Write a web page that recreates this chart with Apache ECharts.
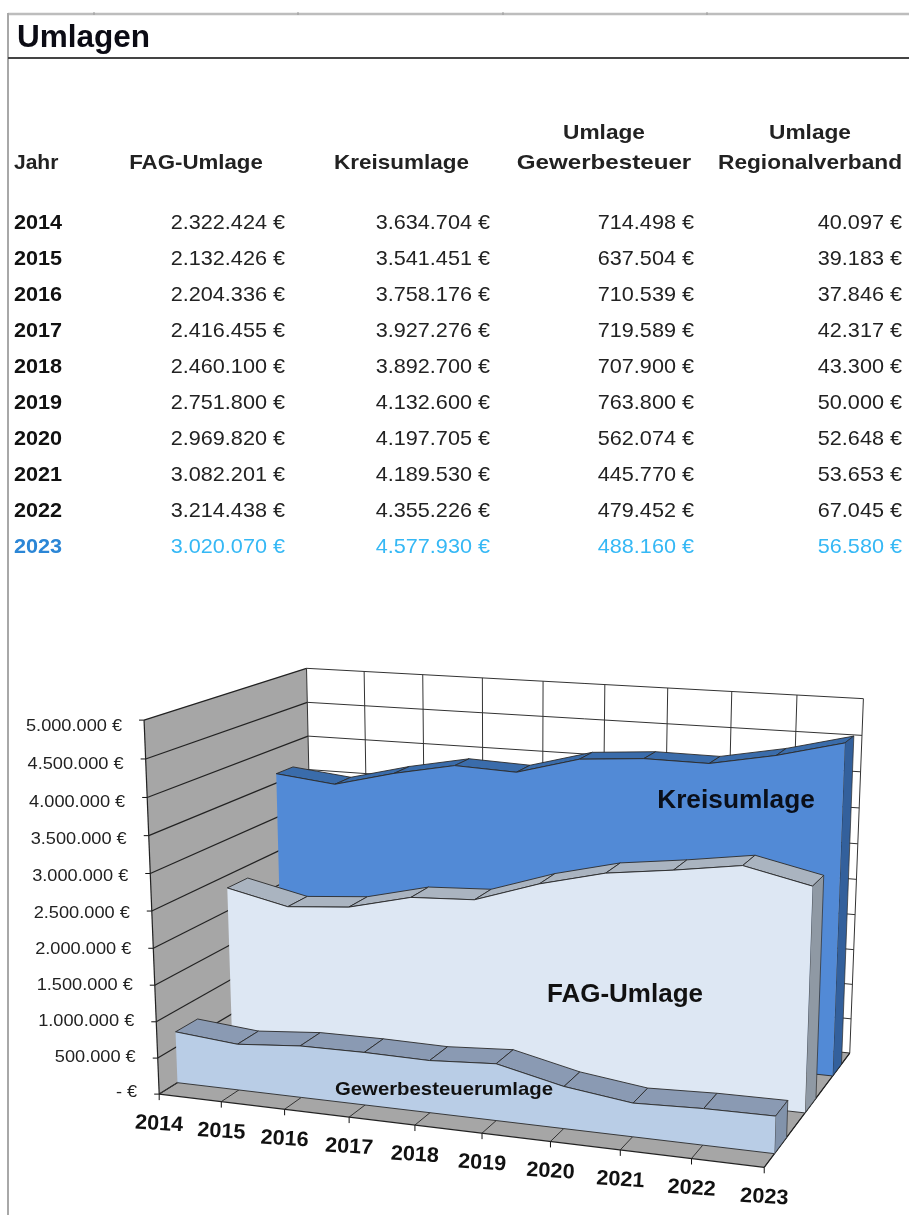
<!DOCTYPE html>
<html><head><meta charset="utf-8">
<style>html,body{margin:0;padding:0;background:#fff}#c{width:909px;height:1215px}</style>
<script src="https://cdn.jsdelivr.net/npm/echarts@6/dist/echarts.min.js"></script>
</head><body><div id="c"></div>
<script>
// ---- data ----
var years = ['2014','2015','2016','2017','2018','2019','2020','2021','2022','2023'];
var fagUmlage = [2322424,2132426,2204336,2416455,2460100,2751800,2969820,3082201,3214438,3020070];
var kreisumlage = [3634704,3541451,3758176,3927276,3892700,4132600,4197705,4189530,4355226,4577930];
var gewerbesteuer = [714498,637504,710539,719589,707900,763800,562074,445770,479452,488160];
var regionalverband = [40097,39183,37846,42317,43300,50000,52648,53653,67045,56580];
var yTicks = [0,500000,1000000,1500000,2000000,2500000,3000000,3500000,4000000,4500000,5000000];
var tableTitle = 'Umlagen';
var headers = [['Jahr'],['FAG-Umlage'],['Kreisumlage'],['Umlage','Gewerbesteuer'],['Umlage','Regionalverband']];
var areaNames = ['Kreisumlage','FAG-Umlage','Gewerbesteuerumlage'];

// ---- layout ----
var W = 909, H = 1215, FONT = '"Liberation Sans", Arial, sans-serif';
function euro(v){ return (v===0?'-':String(v).replace(/\B(?=(\d{3})+$)/g,'.'))+' €'; }
// calibration of the 3D box: unit box point -> screen pixel
var corners = [[0,0,0,160,1092],[1,0,0,765,1168],[0,1,0,144,722],[0,0,1,314,1002],[0,1,1,307,667],[1,0,1,849,1050],[1,1,1,864,699],
  [0,0.5,0,151,911],[0,0.2,0,156,1019],[0,0.8,0,147,798],[4/9,0,0,414,1125],[7/9,0,0,621,1152],[3/9,1,1,482,677],[6/9,1,1,667,690],[0,0.9,1,308,702],[0,0.8,1,308,735],[1,0.9,1,862,735]];
function solve(A,b){var n=b.length;for(var i=0;i<n;i++){var p=i;for(var r=i+1;r<n;r++)if(Math.abs(A[r][i])>Math.abs(A[p][i]))p=r;
  var t=A[i];A[i]=A[p];A[p]=t;t=b[i];b[i]=b[p];b[p]=t;
  for(r=i+1;r<n;r++){var f=A[r][i]/A[i][i];for(var c=i;c<n;c++)A[r][c]-=f*A[i][c];b[r]-=f*b[i];}}
  var x=[];for(i=n-1;i>=0;i--){var s=b[i];for(c=i+1;c<n;c++)s-=A[i][c]*x[c];x[i]=s/A[i][i];}return x;}
var cam=(function(){var R=[],B=[];corners.forEach(function(q){var u=q[0],v=q[1],w=q[2],x=q[3],y=q[4];
  R.push([u,v,w,1,0,0,0,0,-x*u,-x*v,-x*w]);B.push(x);R.push([0,0,0,0,u,v,w,1,-y*u,-y*v,-y*w]);B.push(y);});
  var N=[],g=[];for(var i=0;i<11;i++){N[i]=[];g[i]=0;for(var j=0;j<11;j++){N[i][j]=0;for(var k=0;k<R.length;k++)N[i][j]+=R[k][i]*R[k][j];}
  for(k=0;k<R.length;k++)g[i]+=R[k][i]*B[k];}return solve(N,g);})();
function project(u,v,w){var d=cam[8]*u+cam[9]*v+cam[10]*w+1;
  return [(cam[0]*u+cam[1]*v+cam[2]*w+cam[3])/d,(cam[4]*u+cam[5]*v+cam[6]*w+cam[7])/d];}
// scale a (category,value) pair through the hidden axes, then project at a depth
function P(api,cat,val,w){var c=api.coord([cat,val]);return project(c[0]/W,1-c[1]/H,w);}

var EDGE='#2a2a2a', WALL='#a6a6a6', GRID='#333333';
function line(a,b,color,lw){return {type:'line',shape:{x1:a[0],y1:a[1],x2:b[0],y2:b[1]},style:{stroke:color||GRID,lineWidth:lw||1},silent:true};}
function poly(pts,fill){return {type:'polygon',shape:{points:pts},style:{fill:fill,stroke:null},silent:true};}
function polyline(pts,color,lw){return {type:'polyline',shape:{points:pts},style:{stroke:color,lineWidth:lw,fill:null},silent:true};}
var last=years.length-1, top5=yTicks[yTicks.length-1];

// walls, floor, grid
function renderBox(params,api){
  if(params.dataIndex!==0) return null;
  var ch=[];
  ch.push(poly([P(api,0,0,1),P(api,last,0,1),P(api,last,top5,1),P(api,0,top5,1)],'#ffffff'));
  ch.push(poly([P(api,0,0,0),P(api,0,0,1),P(api,0,top5,1),P(api,0,top5,0)],WALL));
  ch.push(poly([P(api,0,0,0),P(api,last,0,0),P(api,last,0,1),P(api,0,0,1)],WALL));
  yTicks.forEach(function(t){
    ch.push(line(P(api,0,t,0),P(api,0,t,1),'#222',1.2));
    ch.push(line(P(api,0,t,1),P(api,last,t,1)));
    var a=P(api,0,t,0);
    ch.push(line([a[0]-5,a[1]],a,'#111'));
  });
  years.forEach(function(y,i){
    ch.push(line(P(api,i,0,0),P(api,i,0,1)));
    ch.push(line(P(api,i,0,1),P(api,i,top5,1)));
    var a=P(api,i,0,0);
    ch.push(line(a,[a[0],a[1]+6],'#111'));
  });
  ch.push(line(P(api,0,0,0),P(api,last,0,0),'#222',1.2));
  ch.push(line(P(api,0,0,0),P(api,0,top5,0),'#222',1.2));
  ch.push(line(P(api,last,0,0),P(api,last,0,1),'#222',1.2));
  return {type:'group',children:ch};
}
// one 3D ribbon area
function renderArea(w0,w1,cFace,cTop,cCap){
  return function(params,api){
    if(params.dataIndex!==0) return null;
    var ch=[],front=[],back=[],i;
    for(i=0;i<=last;i++){var v=api.value(1,i);front.push(P(api,i,v,w0));back.push(P(api,i,v,w1));}
    for(i=0;i<last;i++){
      var q=poly([front[i],front[i+1],back[i+1],back[i]],cTop);q.style.stroke=EDGE;q.style.lineWidth=0.9;ch.push(q);
    }
    var foot=[];for(i=last;i>=0;i--)foot.push(P(api,i,0,w0));
    var cap=poly([front[last],back[last],P(api,last,0,w1),P(api,last,0,w0)],cCap);cap.style.stroke=EDGE;cap.style.lineWidth=0.7;ch.push(cap);
    ch.push(poly(front.concat(foot),cFace));
    ch.push(polyline(front,EDGE,0.9));
    ch.push(polyline(foot,EDGE,0.9));
    return {type:'group',children:ch};
  };
}
function bar(depth,data,face,top,cap,z){
  return {type:'custom',z:z,silent:true,clip:false,coordinateSystem:'cartesian2d',
    data:data.map(function(v,i){return [i,v];}),encode:{x:0,y:1},renderItem:renderArea(depth[0],depth[1],face,top,cap)};
}
function rotText(x,y,text,font,fill,align,sx,rot){
  return {type:'text',x:x,y:y,scaleX:sx||1,rotation:rot||0,silent:true,
    style:{x:0,y:0,text:text,font:font,fill:fill,align:align,verticalAlign:'middle'}};
}
// axis labels and area names placed by the projection
function renderLabels(params,api){
  if(params.dataIndex!==0) return null;
  var ch=[];
  yTicks.forEach(function(t){var a=P(api,0,t,0);
    ch.push(rotText(a[0]-22,a[1]-2+8*t/top5,euro(t),'17px '+FONT,'#222','right',1.07));});
  years.forEach(function(y,i){var a=P(api,i,0,0);
    ch.push(rotText(a[0],a[1]+30,y,'bold 21px '+FONT,'#111','center',1.03,-0.06));});
  ch.push(rotText(736,801,areaNames[0],'bold 26px '+FONT,'#0a0f1a','center',1.01));
  ch.push(rotText(625,995,areaNames[1],'bold 26px '+FONT,'#111','center',1.0));
  ch.push(rotText(444,1090,areaNames[2],'bold 19px '+FONT,'#111','center',1.07));
  return {type:'group',children:ch};
}

// table and frame
var gfx=[];
function t(x,y,s,bold,size,fill,align,sx){gfx.push({type:'text',x:x,y:y,scaleX:sx,silent:true,
  style:{x:0,y:0,text:s,font:(bold?'bold ':'')+size+'px '+FONT,fill:fill,align:align,verticalAlign:'middle'}});}
function gl(x1,y1,x2,y2,c,lw){gfx.push({type:'line',silent:true,shape:{x1:x1,y1:y1,x2:x2,y2:y2},style:{stroke:c,lineWidth:lw}});}
gl(8,14,909,14,'#bdbdbd',2.5); gl(8,13,8,1215,'#a8a8a8',2); gl(8,58,909,58,'#444',2);
[94,298,503,707].forEach(function(x){gl(x,12,x,15,'#999',1);});
t(17,38,tableTitle,true,32,'#0b0b14','left',0.985);
var colCenter=[14,196,401.5,604,810], colRight=[285,490,694,902], headScale=[1.0,1.06,1.07,1.15,1.08];
headers.forEach(function(h,i){
  if(h.length===2) t(colCenter[i],133,h[0],true,21,'#222','center',1.08);
  t(colCenter[i],163,h[h.length-1],true,21,'#222',i===0?'left':'center',headScale[i]);
});
var cols=[fagUmlage,kreisumlage,gewerbesteuer,regionalverband];
years.forEach(function(y,r){
  var yy=223+36*r, hot=r===years.length-1;
  t(14,yy,y,true,21,hot?'#2b86d6':'#111','left',1.03);
  cols.forEach(function(a,c){t(colRight[c],yy,euro(a[r]),false,21,hot?'#35b8f5':'#222','right',1.03);});
});

var depths=[[0.775,0.89],[0.44,0.57],[0.105,0.235]];
var boxData=years.map(function(y,i){return [i,0];});
var chart=echarts.init(document.getElementById('c'));
chart.setOption({
  animation:false,backgroundColor:'#fff',
  grid:{left:0,top:0,width:W,height:H,containLabel:false},
  xAxis:{type:'category',data:years,boundaryGap:false,show:false},
  yAxis:{type:'value',min:0,max:top5,interval:500000,show:false},
  graphic:gfx,
  series:[
    {type:'custom',z:1,silent:true,clip:false,data:boxData,encode:{x:0,y:1},renderItem:renderBox},
    bar(depths[0],kreisumlage,'#528ad6','#3a6cab','#33609c',2),
    bar(depths[1],fagUmlage,'#dde7f3','#aab4c0','#8f99a4',3),
    bar(depths[2],gewerbesteuer,'#b9cde6','#8a9ab3','#8293ab',4),
    {type:'custom',z:5,silent:true,clip:false,data:boxData,encode:{x:0,y:1},renderItem:renderLabels}
  ]
});
</script></body></html>
